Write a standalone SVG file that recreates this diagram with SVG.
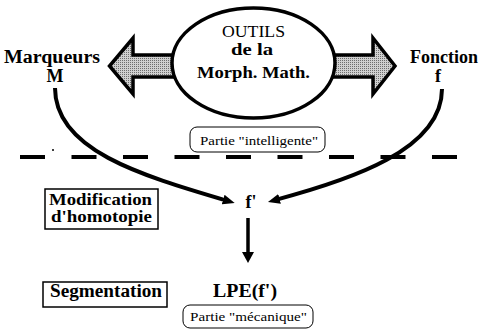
<svg xmlns="http://www.w3.org/2000/svg" width="483" height="333" viewBox="0 0 483 333">
<style>
.t{font-family:"Liberation Serif","Times New Roman",serif;fill:#000}
.b{font-weight:bold}
.lab{font-size:18px}
.sm{font-size:13px}
.box{fill:#fff;stroke:#000;stroke-width:1.5}
.rbox{fill:#fff;stroke:#000;stroke-width:1}
.curve{fill:none;stroke:#000;stroke-width:4;marker-end:url(#head)}
.block{fill:url(#stipple);stroke:#000;stroke-width:3.5;stroke-linejoin:miter}
</style>
<defs>
<pattern id="stipple" width="2" height="2" patternUnits="userSpaceOnUse">
<rect width="2" height="2" fill="#d0d0d0"/>
<rect width="1" height="1" fill="#6e6e6e"/>
</pattern>
<marker id="head" viewBox="0 0 12 10" refX="4" refY="5" markerWidth="12" markerHeight="10" markerUnits="userSpaceOnUse" orient="auto">
<path d="M0,0 L12,5 L0,10 z" fill="#000"/>
</marker>
</defs>
<rect width="483" height="333" fill="#fff"/>

<line x1="20" y1="157" x2="457" y2="157" stroke="#000" stroke-width="4" stroke-dasharray="25 26.5"/>
<circle cx="53" cy="150" r="1" fill="#000"/>

<g id="connectors">
<polygon class="block" points="185,55 133,55 133,38 109.5,66 133,94 133,77 185,77"/>
<polygon class="block" points="322,55 373,55 373,38 395,66 373,94 373,77 322,77"/>
<path class="curve" d="M55,88 C55,150 140,175 227,200.7"/>
<path class="curve" d="M442,89 C442,150 350,180 275.7,199.9"/>
<path d="M248,218 L248,254" stroke="#000" stroke-width="3.5" fill="none"/>
<path d="M242,252 L254,252 L248,263 z" fill="#000"/>
</g>

<g id="outils">
<ellipse cx="253.5" cy="63" rx="81.5" ry="55" fill="#fff" stroke="#000" stroke-width="3.5"/>
<text class="t" x="222" y="37" font-size="17" textLength="63" lengthAdjust="spacingAndGlyphs">OUTILS</text>
<text class="t b" x="231" y="55" font-size="17" textLength="42" lengthAdjust="spacingAndGlyphs">de la</text>
<text class="t b" x="197" y="78" font-size="17" textLength="113" lengthAdjust="spacingAndGlyphs">Morph. Math.</text>
</g>

<g id="marqueurs">
<text class="t b lab" x="4" y="63" textLength="96" lengthAdjust="spacingAndGlyphs">Marqueurs</text>
<text class="t b lab" x="55" y="82" text-anchor="middle">M</text>
</g>

<g id="fonction">
<text class="t b lab" x="410" y="63" textLength="68" lengthAdjust="spacingAndGlyphs">Fonction</text>
<text class="t b lab" x="438" y="82" text-anchor="middle">f</text>
</g>

<g id="partie-intelligente">
<rect class="rbox" x="190" y="127" width="135" height="25" rx="7"/>
<text class="t sm" x="200" y="145" textLength="118" lengthAdjust="spacingAndGlyphs">Partie "intelligente"</text>
</g>

<g id="modification">
<rect class="box" x="45" y="189" width="113" height="40"/>
<text class="t b" x="49" y="205" font-size="16" textLength="103" lengthAdjust="spacingAndGlyphs">Modification</text>
<text class="t b" x="51" y="222" font-size="16" textLength="101" lengthAdjust="spacingAndGlyphs">d'homotopie</text>
</g>

<g id="fprime">
<text class="t b lab" x="251" y="208" text-anchor="middle">f'</text>
</g>

<g id="segmentation">
<rect class="box" x="43" y="282" width="124" height="25"/>
<text class="t b" x="50" y="297" font-size="18" textLength="112" lengthAdjust="spacingAndGlyphs">Segmentation</text>
</g>

<g id="lpe">
<text class="t b" x="213" y="297" font-size="19" textLength="64" lengthAdjust="spacingAndGlyphs">LPE(f')</text>
</g>

<g id="partie-mecanique">
<rect class="rbox" x="183" y="305" width="130" height="23" rx="7"/>
<text class="t sm" x="190" y="321" textLength="117" lengthAdjust="spacingAndGlyphs">Partie "mécanique"</text>
</g>
</svg>
